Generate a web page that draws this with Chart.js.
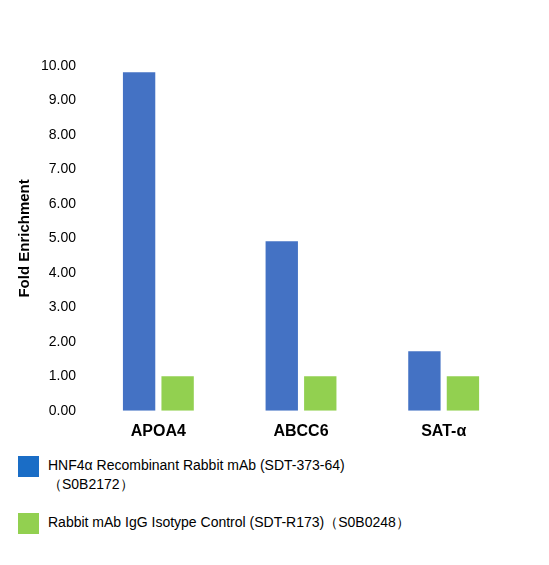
<!DOCTYPE html>
<html>
<head>
<meta charset="utf-8">
<script src="https://cdn.jsdelivr.net/npm/chart.js@4"></script>
<style>
body { margin:0; background:#fff; font-family:"Liberation Sans", Arial, sans-serif; }
#wrap { position:relative; width:549px; height:444px; }
.leg { position:absolute; left:18px; font-size:14px; color:#000; line-height:19px; }
.sw { position:absolute; left:0; top:2px; width:21px; height:21px; }
.lt { position:absolute; left:30px; top:2px; white-space:nowrap; }
</style>
</head>
<body>
<div id="wrap"><canvas id="c" width="549" height="444"></canvas></div>
<div class="leg" style="top:454px"><div class="sw" style="background:#1a6dc6"></div><div class="lt">HNF4α Recombinant Rabbit mAb (SDT-373-64)<br>（S0B2172）</div></div>
<div class="leg" style="top:511px"><div class="sw" style="background:#92d050"></div><div class="lt">Rabbit mAb IgG Isotype Control (SDT-R173)（S0B0248）</div></div>
<script>
var categories = ["APOA4", "ABCC6", "SAT-α"];
var hnfValues = [9.82, 4.92, 1.73];
var iggValues = [1.0, 1.0, 1.0];

ctx = document.getElementById("c");
new Chart(ctx, {
    type: 'bar',
    data: {
        labels: categories,
        datasets: [
            { label: "HNF4α", data: hnfValues, backgroundColor: "#4472c4", categoryPercentage: 0.54, barPercentage: 0.84 },
            { label: "IgG", data: iggValues, backgroundColor: "#92d050", categoryPercentage: 0.54, barPercentage: 0.84 }
        ]
    },
    options: {
        responsive: false,
        animation: false,
        layout: { padding: { top: 66, right: 34, left: 12 } },
        plugins: { legend: { display: false }, tooltip: { enabled: false } },
        scales: {
            x: {
                grid: { display: false },
                border: { display: false },
                ticks: { color: "#000", font: { size: 16, weight: 'bold', family: "Liberation Sans" } }
            },
            y: {
                min: 0, max: 10,
                grid: { display: false },
                border: { display: false },
                ticks: { stepSize: 1, color: "#000", font: { size: 14, family: "Liberation Sans" },
                    callback: function(v) { return v.toFixed(2); } },
                title: { display: true, text: "Fold Enrichment", color: "#000",
                    font: { size: 15, weight: 'bold', family: "Liberation Sans" } }
            }
        }
    }
});
</script>
</body>
</html>
